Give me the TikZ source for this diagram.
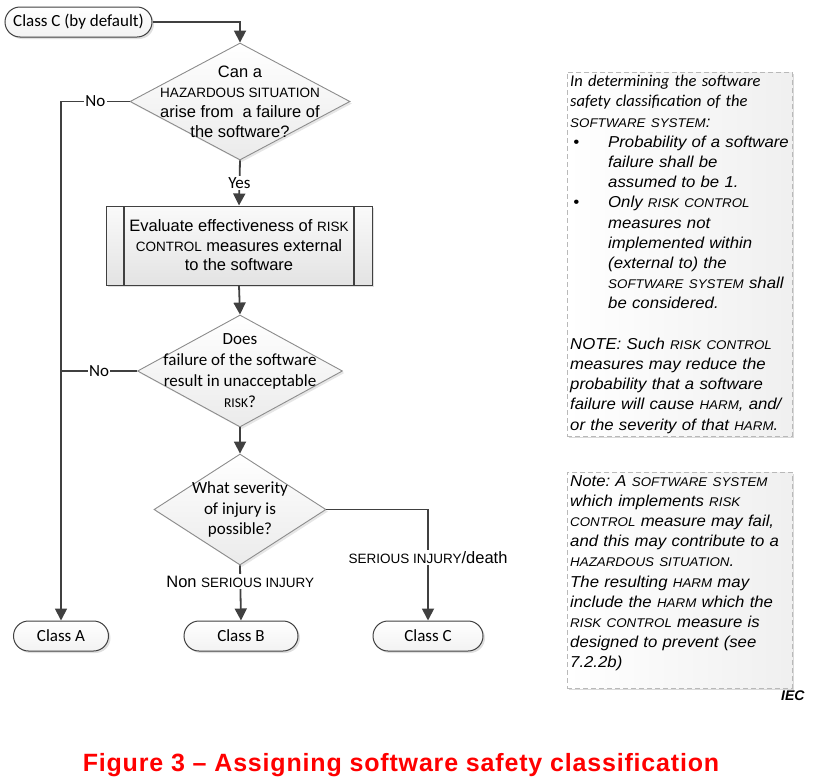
\documentclass[tikz,border=0pt]{standalone}
\usepackage{fontspec}
\setmainfont{Liberation Sans}
\newfontfamily\calfont{Carlito}
\newfontfamily\notefont[FakeStretch=1.06]{Liberation Sans}
\newfontfamily\titlefont[LetterSpace=3.3]{Liberation Sans}
\usetikzlibrary{shapes.geometric,shadows,arrows.meta}
\definecolor{linegray}{HTML}{404040}
\definecolor{edgegray}{HTML}{8C8C8C}
\definecolor{figred}{HTML}{FF0000}
% small upper-case words of the standard
\newcommand\smc[1]{{\fontsize{13.5}{20}\selectfont #1}}
\newcommand\nsmc[1]{{\fontsize{12.6}{20}\selectfont #1}}
\newcommand\noteitem[1]{\par{\leftskip=38pt\noindent\llap{\textbullet\hspace{29pt}}#1\par}}
\begin{document}
\begin{tikzpicture}[x=1pt,y=-1pt,
  flow/.style={draw=linegray,line width=1.8pt,-{Triangle[length=12pt,width=12pt]}},
  joinline/.style={draw=linegray,line width=1.8pt},
  terminal/.style={draw=linegray,line width=1pt,rounded corners=15pt,minimum height=30pt,
    top color=white,bottom color=gray!10,
    drop shadow={shadow xshift=2pt,shadow yshift=-2pt,opacity=0.25},
    font=\calfont\fontsize{17}{20}\selectfont},
  decision/.style={diamond,draw=edgegray,line width=0.9pt,inner sep=0pt,
    top color=white,bottom color=gray!16,
    drop shadow={shadow xshift=2pt,shadow yshift=-2pt,opacity=0.2}},
  dtext/.style={align=center,inner sep=0pt},
  process/.style={draw=linegray,line width=1pt,minimum width=266pt,minimum height=79pt,
    top color=gray!4,bottom color=gray!22,align=center,
    font=\fontsize{16.5}{19.5}\selectfont,
    drop shadow={shadow xshift=2pt,shadow yshift=-2pt,opacity=0.25},
    path picture={\draw[linegray,line width=2pt]
      ([xshift=18pt]path picture bounding box.north west) -- ([xshift=18pt]path picture bounding box.south west)
      ([xshift=-18pt]path picture bounding box.north east) -- ([xshift=-18pt]path picture bounding box.south east);}},
  lbl/.style={fill=white,inner sep=1.5pt},
  note/.style={draw=gray!55,dash pattern=on 5pt off 3pt,line width=0.9pt,
    left color=white,right color=gray!12,anchor=north west,minimum width=225pt,
    drop shadow={shadow xshift=2pt,shadow yshift=-2pt,opacity=0.3}},
  notetext/.style={anchor=north west,text width=260pt,inner sep=3pt,align=left,
    font=\notefont\itshape\frenchspacing\fontsize{15.8}{20.2}\selectfont}]
\useasboundingbox (0,0) rectangle (819,782);
% flow chart
\node[terminal,minimum width=147pt] (start) at (78.5,22) {Class C (by default)};
\node[decision,minimum width=220pt,minimum height=117pt] (hazard) at (240,101.5) {};
\node[dtext,font=\fontsize{16.5}{20}\selectfont] (hazardtxt) at (hazard) {Can a\\ \smc{HAZARDOUS SITUATION}\\ arise from\ \ a failure of\\ the software?};
\node[process] (evaluate) at (239,245.5) {Evaluate effectiveness of \smc{RISK}\\ \smc{CONTROL} measures external\\ to the software};
\node[decision,minimum width=205pt,minimum height=112pt] (risk) at (240,371) {};
\node[dtext,font=\calfont\fontsize{17}{21}\selectfont] (risktxt) at (risk) {Does\\ failure of the software\\ result in unacceptable\\ \smc{RISK}?};
\node[decision,minimum width=172pt,minimum height=111pt] (severity) at (240,509.5) {};
\node[dtext,font=\calfont\fontsize{17}{20.5}\selectfont] (severitytxt) at (severity) {What severity\\ of injury is\\ possible?};
\node[terminal,minimum width=95pt] (classA) at (61,636) {Class A};
\node[terminal,minimum width=114pt] (classB) at (241,636) {Class B};
\node[terminal,minimum width=110pt] (classC) at (428,636) {Class C};
% connectors
\draw[flow] (start.east) -| (hazard.north);
\draw[flow] (hazard.south) -- node[lbl,font=\calfont\fontsize{17}{20}\selectfont]{Yes} (evaluate.north);
\draw[flow] (evaluate.south) -- (risk.north);
\draw[flow] (risk.south) -- (severity.north);
\draw[flow] (hazard.west) -| node[lbl,pos=0.25,font=\calfont\fontsize{17}{20}\selectfont]{No} (classA.north);
\draw[joinline] (risk.west) -- node[lbl,font=\calfont\fontsize{17}{20}\selectfont]{No} (risk.west -| classA.north);
\draw[flow] (severity.east) -| node[lbl,pos=0.716,font=\fontsize{16.5}{20}\selectfont]{\smc{SERIOUS INJURY}/death} (classC.north);
\draw[flow] (severity.south) -- node[lbl,pos=0.29,font=\fontsize{16.5}{20}\selectfont]{Non \smc{SERIOUS INJURY}} (classB.north);
% notes
\node[note,minimum height=364pt] (note1) at (567,72) {};
\node[notetext] (note1txt) at (note1.north west) {{\calfont\fontsize{16.5}{20.2}\selectfont In determining the software\\ safety classification of the}\\ \nsmc{SOFTWARE SYSTEM}:
\noteitem{Probability of a software\\ failure shall be\\ assumed to be 1.}
\noteitem{Only \nsmc{RISK CONTROL}\\ measures not\\ implemented within\\ (external to) the\\ \nsmc{SOFTWARE SYSTEM} shall\\ be considered.}
\vspace{20.2pt}\noindent NOTE: Such \nsmc{RISK CONTROL}\\ measures may reduce the\\ probability that a software\\ failure will cause \nsmc{HARM}, and/\\ or the severity of that \nsmc{HARM}.};
\node[note,minimum height=216pt] (note2) at (567,472) {};
\node[notetext] (note2txt) at (note2.north west) {Note: A \nsmc{SOFTWARE SYSTEM}\\ which implements \nsmc{RISK}\\ \nsmc{CONTROL} measure may fail,\\ and this may contribute to a\\ \nsmc{HAZARDOUS SITUATION}.\\ The resulting \nsmc{HARM} may\\ include the \nsmc{HARM} which the\\ \nsmc{RISK CONTROL} measure is\\ designed to prevent (see\\ 7.2.2b)};
\node[anchor=east,font=\bfseries\itshape\fontsize{14}{16}\selectfont] (iec) at (808,696) {IEC};
\node[text=figred,font=\titlefont\bfseries\fontsize{25}{30}\selectfont] (title) at (401,765) {Figure 3 – Assigning software safety classification};
\end{tikzpicture}
\end{document}
